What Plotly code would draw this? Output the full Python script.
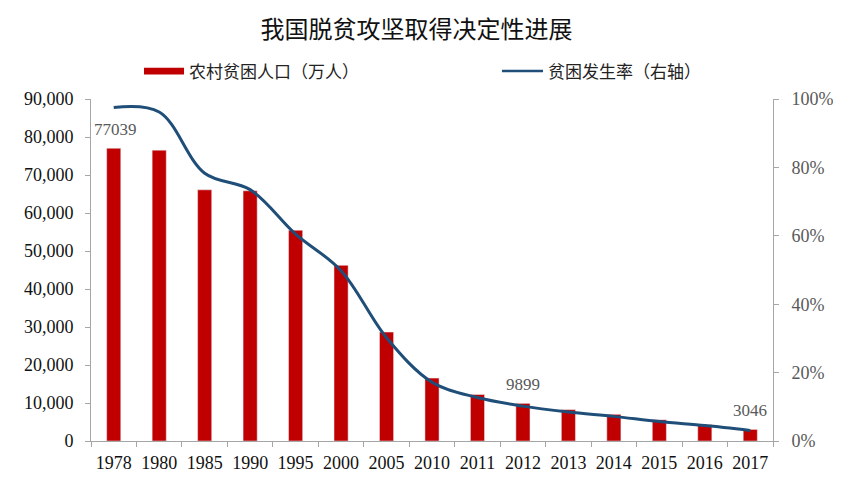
import plotly.graph_objects as go

years = ["1978", "1980", "1985", "1990", "1995", "2000", "2005", "2010",
         "2011", "2012", "2013", "2014", "2015", "2016", "2017"]
poor_pop = [77039, 76542, 66101, 65849, 55463, 46224, 28662, 16567,
            12238, 9899, 8249, 7017, 5575, 4335, 3046]
poverty_rate = [0.975, 0.962, 0.783, 0.735, 0.605, 0.498, 0.302, 0.172,
                0.127, 0.102, 0.085, 0.072, 0.057, 0.045, 0.031]
labelled = {"1978": "77039", "2012": "9899", "2017": "3046"}

RED = "#C00000"
BLUE = "#1F4E79"
AXIS = "#A6A6A6"
SERIF = "Liberation Serif, Times New Roman, serif"
CJK = "Noto Sans CJK SC, sans-serif"

fig = go.Figure()
fig.add_trace(go.Bar(x=years, y=poor_pop, name="农村贫困人口（万人）",
                     marker_color=RED, width=0.31, showlegend=False))
fig.add_trace(go.Scatter(x=years, y=poverty_rate, name="贫困发生率（右轴）",
                         yaxis="y2", mode="lines", line=dict(color=BLUE, width=3, shape="spline", smoothing=1.0),
                         showlegend=False))

for yr, txt in labelled.items():
    i = years.index(yr)
    v = poor_pop[i]
    fig.add_annotation(x=i, y=v, text=txt, showarrow=False, yshift=19,
                       xshift=2 if yr == "1978" else 0,
                       font=dict(family=SERIF, size=17, color="#595959"))

# custom legend
fig.add_shape(type="rect", xref="paper", yref="paper", x0=0.0777, x1=0.1364, y0=1.072, y1=1.0915,
              fillcolor=RED, line_width=0)
fig.add_annotation(xref="paper", yref="paper", x=0.1408, y=1.082, xanchor="left", yanchor="middle",
                   text="农村贫困人口（万人）", showarrow=False,
                   font=dict(family=CJK, size=17, color="#222"))
fig.add_shape(type="line", xref="paper", yref="paper", x0=0.6026, x1=0.6628, y0=1.0819, y1=1.0819,
              line=dict(color=BLUE, width=2.5))
fig.add_annotation(xref="paper", yref="paper", x=0.667, y=1.082, xanchor="left", yanchor="middle",
                   text="贫困发生率（右轴）", showarrow=False,
                   font=dict(family=CJK, size=17, color="#222"))

fig.update_layout(
    width=841, height=487,
    margin=dict(l=83, r=76, t=91, b=54),
    paper_bgcolor="white", plot_bgcolor="white",
    title=dict(text="我国脱贫攻坚取得决定性进展", x=0.4857, xanchor="center", y=0.955, yanchor="middle",
               font=dict(family=CJK, size=24, color="#111")),
    bargap=0.5,
    xaxis=dict(type="category", range=[-0.5, len(years) - 0.5], showline=True, linecolor=AXIS, linewidth=1,
               ticks="outside", tickson="boundaries", ticklen=5, tickcolor=AXIS, tickangle=0,
               ticklabelstandoff=5,
               tickfont=dict(family=SERIF, size=18, color="#111"), showgrid=False),
    yaxis=dict(range=[0, 90000], dtick=10000, tickformat=",", showgrid=False,
               showline=True, linecolor=AXIS, ticks="outside", ticklen=5, tickcolor=AXIS,
               ticklabelstandoff=8,
               tickfont=dict(family=SERIF, size=18, color="#111"), zeroline=False),
    yaxis2=dict(range=[0, 1], dtick=0.2, tickformat=".0%", overlaying="y", side="right",
                showgrid=False, showline=True, linecolor=AXIS, ticks="outside", ticklen=5,
                ticklabelstandoff=9,
                tickcolor=AXIS, tickfont=dict(family=SERIF, size=18, color="#595959"), zeroline=False),
)

fig.write_html("out.html")
